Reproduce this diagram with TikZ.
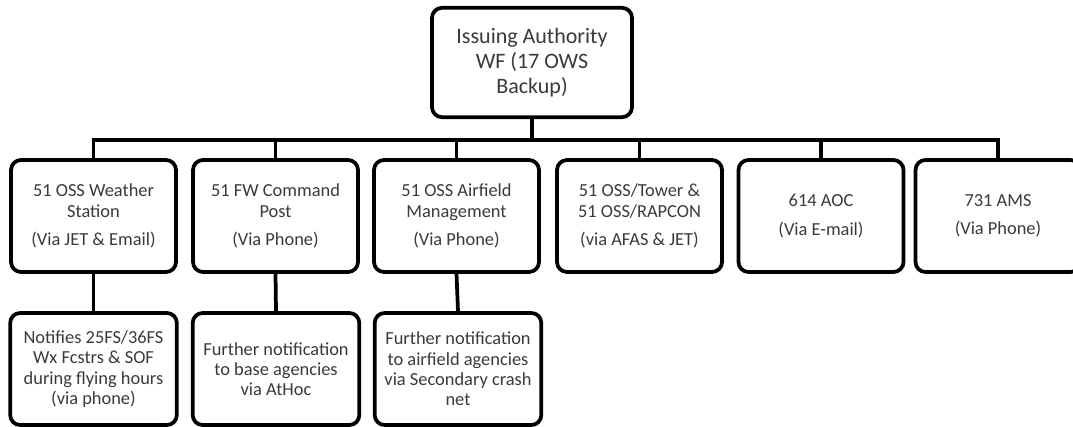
\documentclass[tikz,border=0pt]{standalone}
\usepackage{fontspec}
\setmainfont{Carlito}
\definecolor{txtgray}{HTML}{3A3A3A}
\tikzset{
  orgbox/.style={draw=black, line width=2.8pt, rounded corners=7.5pt, fill=white,
    align=center, text=txtgray, inner sep=1pt,
    font=\fontsize{13.8}{15.2}\selectfont},
  rowbox/.style={orgbox, minimum width=123.75pt, minimum height=84pt},
  lowbox/.style={orgbox, minimum width=125pt, minimum height=84pt},
  topbox/.style={orgbox, minimum width=150pt, minimum height=82pt,
    font=\fontsize{16.5}{18.5}\selectfont},
  link/.style={draw=black, line width=2.8pt}
}
\begin{document}
\begin{tikzpicture}[x=0.75pt,y=-0.75pt]
\useasboundingbox (0,0) rectangle (1073,427);
\clip (0,0) rectangle (1073,427);
\fill[white] (0,0) rectangle (1073,427);
\coordinate (bus) at (0,140);
\node[topbox] (top) at (532,62.5) {Issuing Authority\\WF (17 OWS\\Backup)};
\node[rowbox] (b1) at (93.5,216) {51 OSS Weather\\Station\\[6pt](Via JET \& Email)};
\node[rowbox] (b2) at (275.5,216) {51 FW Command\\Post\\[6pt](Via Phone)};
\node[rowbox] (b3) at (456.5,216) {51 OSS Airfield\\Management\\[6pt](Via Phone)};
\node[rowbox] (b4) at (639.5,216) {51 OSS/Tower \&\\51 OSS/RAPCON\\[6pt](via AFAS \& JET)};
\node[rowbox] (b5) at (821,216) {614 AOC\\[6pt](Via E-mail)};
\node[rowbox] (b6) at (998,216) {731 AMS\\[6pt](Via Phone)};
\node[lowbox] (c1) at (93.5,369) {Notifies 25FS/36FS\\Wx Fcstrs \& SOF\\during flying hours\\(via phone)};
\node[lowbox] (c2) at (276,369) {Further notification\\to base agencies\\via AtHoc};
\node[lowbox] (c3) at (458,369) {Further notification\\to airfield agencies\\via Secondary crash\\net};
\draw[link] (top.south) -- (top.south |- bus);
\draw[link] (b1.north) -- (b1.north |- bus) -- (b6.north |- bus) -- (b6.north);
\draw[link] (b2.north) -- (b2.north |- bus);
\draw[link] (b3.north) -- (b3.north |- bus);
\draw[link] (b4.north) -- (b4.north |- bus);
\draw[link] (b5.north) -- (b5.north |- bus);
\draw[link] (b1.south) -- (c1.north);
\draw[link] (b2.south) -- (c2.north);
\draw[link] (b3.south) -- (c3.north);
\end{tikzpicture}
\end{document}
